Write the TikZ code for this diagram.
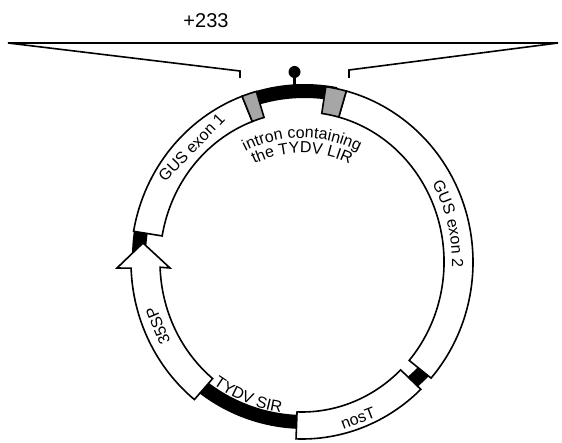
\documentclass[tikz,border=0pt]{standalone}
\usepackage{fontspec}
\setmainfont{Liberation Sans}
\usetikzlibrary{decorations.text}
\definecolor{boxgray}{RGB}{166,166,166}
\newcommand\lblfont{\fontsize{16}{19}\selectfont}
\newcommand\ringseg[3][white]{%
  \draw[boxline, fill=#1] (#2:171pt and 177pt)
    arc[start angle=#2, end angle=#3, x radius=171pt, y radius=177pt]
    -- (#3:142pt and 150pt)
    arc[start angle=#3, end angle=#2, x radius=142pt, y radius=150pt] -- cycle;}
\tikzset{
  boxline/.style={line width=1.6pt, line join=miter, draw=black},
  band/.style={line width=14pt, draw=black},
  thinline/.style={line width=1.6pt, draw=black, line join=miter},
  lbl/.style={font=\lblfont, inner sep=0pt},
  curvlabel/.style={decorate, decoration={text along path, text={|\lblfont|#1}, text align=center}}
}
\begin{document}
\begin{tikzpicture}[x=1pt,y=1pt]
\useasboundingbox (0,0) rectangle (562,442);
% zoom lines
\draw[thinline] (240,364) -- (240,371) -- (8,399) -- (558,399) -- (349,372) -- (349,364);
\node[font=\fontsize{20}{24}\selectfont] (n233) at (206,421) {+233};
% black backbone
\begin{scope}[shift={(304.5,185.5)}]
  \draw[band] (79:165.5pt) arc[start angle=79, end angle=109, radius=165.5pt];
  \draw[band] (166:165.5pt) arc[start angle=166, end angle=183, radius=165.5pt];
  \draw[band] (228:165.5pt) arc[start angle=228, end angle=272, radius=165.5pt];
  \draw[band] (306:165.5pt) arc[start angle=306, end angle=322, radius=165.5pt];
  \path[curvlabel={TYDV SIR}] (218:157.5pt) arc[start angle=218, end angle=278, radius=157.5pt];
\end{scope}
% lollipop
\draw[line width=3pt] (294.5,354) -- (294.5,368);
\fill (294.5,370) circle (6pt);
% ring boxes
\begin{scope}[shift={(302,180)}]
  \ringseg{110.5}{170}
  \ringseg{268}{314}
  \ringseg{-41}{75}
  \ringseg[boxgray]{105.5}{110.5}
  \ringseg[boxgray]{75}{82}
  \draw[boxline, fill=white] (182:171pt and 177pt) -- (-185,-6) -- (-159,19) -- (-132,-6)
    -- (182:142pt and 150pt) arc[start angle=182, end angle=231, x radius=142pt, y radius=150pt]
    -- (231:171pt and 177pt) arc[start angle=231, end angle=182, x radius=171pt, y radius=177pt] -- cycle;
  \path[curvlabel={intron containing}] (130:124pt) arc[start angle=130, end angle=50, radius=124pt];
  \path[curvlabel={the TYDV LIR}] (135:109pt) arc[start angle=135, end angle=45, radius=109pt];
  \path[curvlabel={GUS exon 2}] (44:150pt and 157pt) arc[start angle=44, end angle=-16, x radius=150pt, y radius=157pt];
\end{scope}
\node[lbl, rotate=46] (gus1) at (191.5,294.5) {GUS exon 1};
\node[lbl, rotate=112.6] (p35) at (158,116) {35SP};
\node[lbl, rotate=20.8] (nos) at (358,24) {nosT};
\end{tikzpicture}
\end{document}
